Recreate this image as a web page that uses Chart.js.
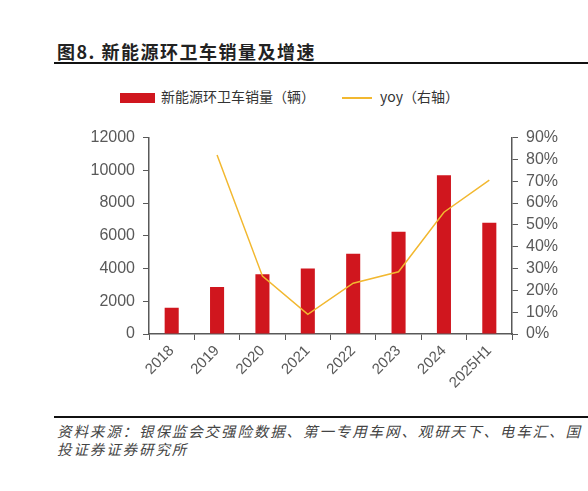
<!DOCTYPE html>
<html>
<head>
<meta charset="utf-8">
<script src="https://cdn.jsdelivr.net/npm/chart.js@4"></script>
<style>
  body { margin: 0; width: 588px; height: 491px; background: #fff; position: relative; overflow: hidden; font-family: "Noto Sans CJK SC", sans-serif; }
  #title { position: absolute; left: 57px; top: 38px; font-size: 18px; font-weight: bold; color: #222; letter-spacing: 1.5px; }
  .rule { position: absolute; left: 54px; right: 0; height: 2px; background: #111; }
  #legend { position: absolute; top: 88px; left: 0; font-size: 14px; color: #333; }
  .lg { position: absolute; white-space: nowrap; }
  #source { position: absolute; left: 57px; top: 422px; font-size: 14.5px; font-style: italic; color: #444; letter-spacing: 1.9px; line-height: 18px; white-space: nowrap; }
  #wrap { position: absolute; left: 60px; top: 120px; width: 528px; height: 290px; }
</style>
</head>
<body>
<div id="title">图8. 新能源环卫车销量及增速</div>
<div class="rule" style="top:62px"></div>
<div id="legend">
  <div class="lg" style="left:120px;top:5px;width:35px;height:10px;background:#D0161E"></div>
  <div class="lg" style="left:161px;top:-2px">新能源环卫车销量（辆）</div>
  <div class="lg" style="left:342px;top:9px;width:30px;height:2px;background:#F2B830"></div>
  <div class="lg" style="left:380px;top:-2px">yoy（右轴）</div>
</div>
<div id="wrap"><canvas id="c"></canvas></div>
<div class="rule" style="top:416px"></div>
<div id="source">资料来源：银保监会交强险数据、第一专用车网、观研天下、电车汇、国<br>投证券证券研究所</div>
<script>
const categories = ['2018', '2019', '2020', '2021', '2022', '2023', '2024', '2025H1'];
const sales = [1600, 2870, 3650, 4000, 4900, 6250, 9700, 6800];
const yoy = [null, 82, 26.5, 9, 23.3, 28.5, 55.8, 70.5];
const salesTicks = [0, 2000, 4000, 6000, 8000, 10000, 12000];
const yoyTicks = [0, 10, 20, 30, 40, 50, 60, 70, 80, 90];

const axisColor = '#595959';
const tickFont = { family: 'Liberation Sans, Arial, sans-serif', size: 16 };

new Chart(document.getElementById('c'), {
  type: 'bar',
  data: {
    labels: categories,
    datasets: [
      {
        type: 'line',
        label: 'yoy（右轴）',
        data: yoy,
        yAxisID: 'y1',
        borderColor: '#F2B830',
        borderWidth: 1.5,
        pointRadius: 0,
        tension: 0
      },
      {
        label: '新能源环卫车销量（辆）',
        data: sales,
        yAxisID: 'y',
        backgroundColor: '#D0161E',
        categoryPercentage: 1,
        barPercentage: 0.31
      }
    ]
  },
  options: {
    responsive: true,
    maintainAspectRatio: false,
    animation: false,
    layout: { padding: { top: 14 } },
    plugins: { legend: { display: false }, tooltip: { enabled: false } },
    scales: {
      x: {
        offset: true,
        grid: { display: true, offset: true, drawOnChartArea: false, color: axisColor, tickLength: 6 },
        border: { color: axisColor, width: 1.5 },
        ticks: { color: axisColor, font: { family: 'Liberation Sans, Arial, sans-serif', size: 15 }, minRotation: 45, maxRotation: 45, padding: 2, autoSkip: false },
        afterFit: s => { s.height = 76; }
      },
      y: {
        position: 'left',
        min: 0,
        max: 12000,
        afterBuildTicks: s => { s.ticks = salesTicks.map(v => ({ value: v })); },
        grid: { drawOnChartArea: false, color: axisColor, tickLength: 6 },
        border: { color: axisColor, width: 1.5 },
        ticks: { color: axisColor, font: tickFont, padding: 8, autoSkip: false, callback: v => String(v) },
        afterFit: s => { s.width = 89; }
      },
      y1: {
        position: 'right',
        min: 0,
        max: 90,
        afterBuildTicks: s => { s.ticks = yoyTicks.map(v => ({ value: v })); },
        grid: { drawOnChartArea: false, color: axisColor, tickLength: 6 },
        border: { color: axisColor, width: 1.5 },
        ticks: { color: axisColor, font: tickFont, padding: 8, autoSkip: false, callback: v => v + '%' },
        afterFit: s => { s.width = 76; }
      }
    }
  }
});
</script>
</body>
</html>
